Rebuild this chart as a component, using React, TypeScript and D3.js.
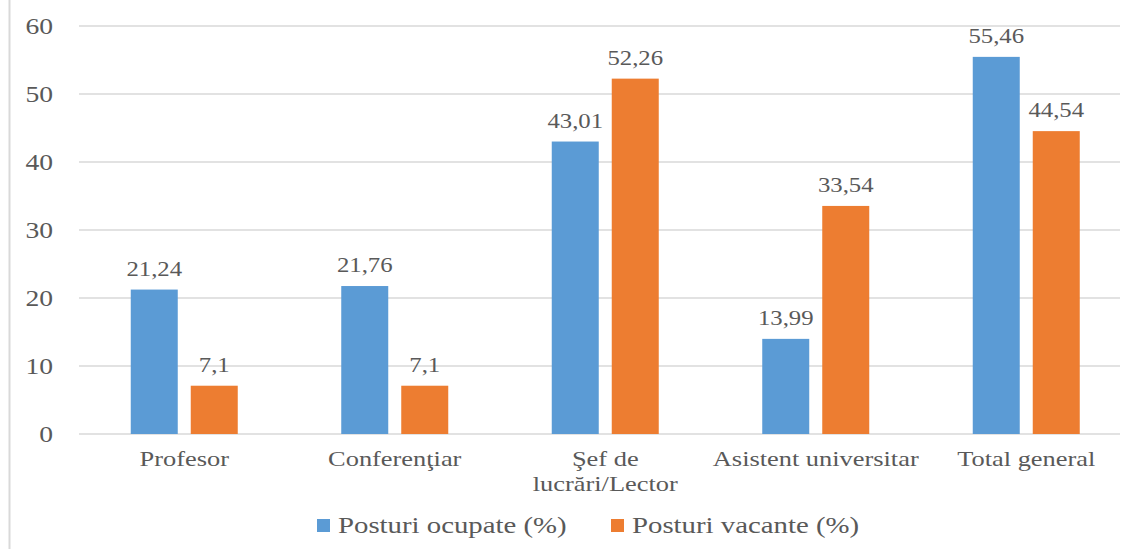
import React, { useEffect, useRef } from 'react';
import * as d3 from 'd3';

const categories = ['Profesor', 'Conferenţiar', 'Şef de lucrări/Lector', 'Asistent universitar', 'Total general'];
const categoryLines = [['Profesor'], ['Conferenţiar'], ['Şef de', 'lucrări/Lector'], ['Asistent universitar'], ['Total general']];
const seriesNames = ['Posturi ocupate (%)', 'Posturi vacante (%)'];
const ocupate = [21.24, 21.76, 43.01, 13.99, 55.46];
const vacante = [7.1, 7.1, 52.26, 33.54, 44.54];
const yTicks = [0, 10, 20, 30, 40, 50, 60];

const colors = ['#5B9BD5', '#ED7D31'];
const textColor = '#595959';
const font = '"Liberation Serif", "Times New Roman", serif';
const SX = 1.2; // the source text is a bit stretched horizontally

const fmt = (v: number) => String(v).replace('.', ',');

export default function App() {
  const ref = useRef<SVGSVGElement>(null);

  useEffect(() => {
    if (!ref.current) return;
    const svg = d3.select(ref.current);
    svg.selectAll('*').remove();

    const width = 1124;
    const height = 549;
    const left = 79;
    const step = 210.5;

    const x = d3.scaleBand<string>()
      .domain(categories)
      .range([left, left + step * categories.length]);

    const inner = d3.scaleBand<string>()
      .domain(seriesNames)
      .range([51.75, 158.75])
      .paddingInner(13 / 60);

    const y = d3.scaleLinear().domain([0, 60]).range([434, 26]);

    svg.append('rect').attr('width', width).attr('height', height).attr('fill', '#fff');

    // left frame edge
    svg.append('line')
      .attr('x1', 9.5).attr('x2', 9.5).attr('y1', 0).attr('y2', height)
      .attr('stroke', '#d9d9d9').attr('stroke-width', 2);

    // gridlines
    svg.append('g').selectAll('line')
      .data(yTicks)
      .enter()
      .append('line')
      .attr('x1', left).attr('x2', 1120)
      .attr('y1', d => y(d)).attr('y2', d => y(d))
      .attr('stroke', '#d9d9d9').attr('stroke-width', 1.3);

    const stretched = (g: d3.Selection<SVGGElement, unknown, null, undefined>, tx: number, ty: number, size: number, anchor: string, txt: string, sx = SX) => {
      g.append('text')
        .attr('transform', `translate(${tx},${ty}) scale(${sx},1)`)
        .attr('text-anchor', anchor)
        .attr('font-family', font)
        .attr('font-size', size)
        .attr('fill', textColor)
        .text(txt);
    };

    // y tick labels
    const yg = svg.append('g');
    yTicks.forEach(t => stretched(yg, 53, y(t) + 8, 23, 'end', String(t)));

    // bars
    const series = [ocupate, vacante];
    const bars = svg.append('g');
    series.forEach((vals, si) => {
      bars.selectAll(`rect.s${si}`)
        .data(vals)
        .enter()
        .append('rect')
        .attr('class', `s${si}`)
        .attr('x', (_, i) => (x(categories[i]) as number) + (inner(seriesNames[si]) as number))
        .attr('y', d => y(d))
        .attr('width', inner.bandwidth())
        .attr('height', d => y(0) - y(d))
        .attr('fill', colors[si]);
    });

    // value labels
    const lg = svg.append('g');
    series.forEach((vals, si) => {
      vals.forEach((v, i) => {
        const cx = (x(categories[i]) as number) + (inner(seriesNames[si]) as number) + inner.bandwidth() / 2;
        stretched(lg, cx, y(v) - 14, 21, 'middle', fmt(v), 1.18);
      });
    });

    // category labels
    const cg = svg.append('g');
    categoryLines.forEach((lines, i) => {
      const cx = (x(categories[i]) as number) + x.bandwidth() / 2;
      lines.forEach((ln, k) => stretched(cg, cx, 466 + k * 25, 22, 'middle', ln));
    });

    // legend
    const leg = svg.append('g');
    const legendX = [317, 611];
    seriesNames.forEach((name, si) => {
      leg.append('rect')
        .attr('x', legendX[si]).attr('y', 519)
        .attr('width', 13).attr('height', 13)
        .attr('fill', colors[si]);
      stretched(leg, legendX[si] + 21, 533, 24, 'start', name);
    });
  }, []);

  return (
    <svg
      ref={ref}
      width={1124}
      height={549}
      style={{ position: 'absolute', left: 0, top: 0, display: 'block' }}
    />
  );
}
